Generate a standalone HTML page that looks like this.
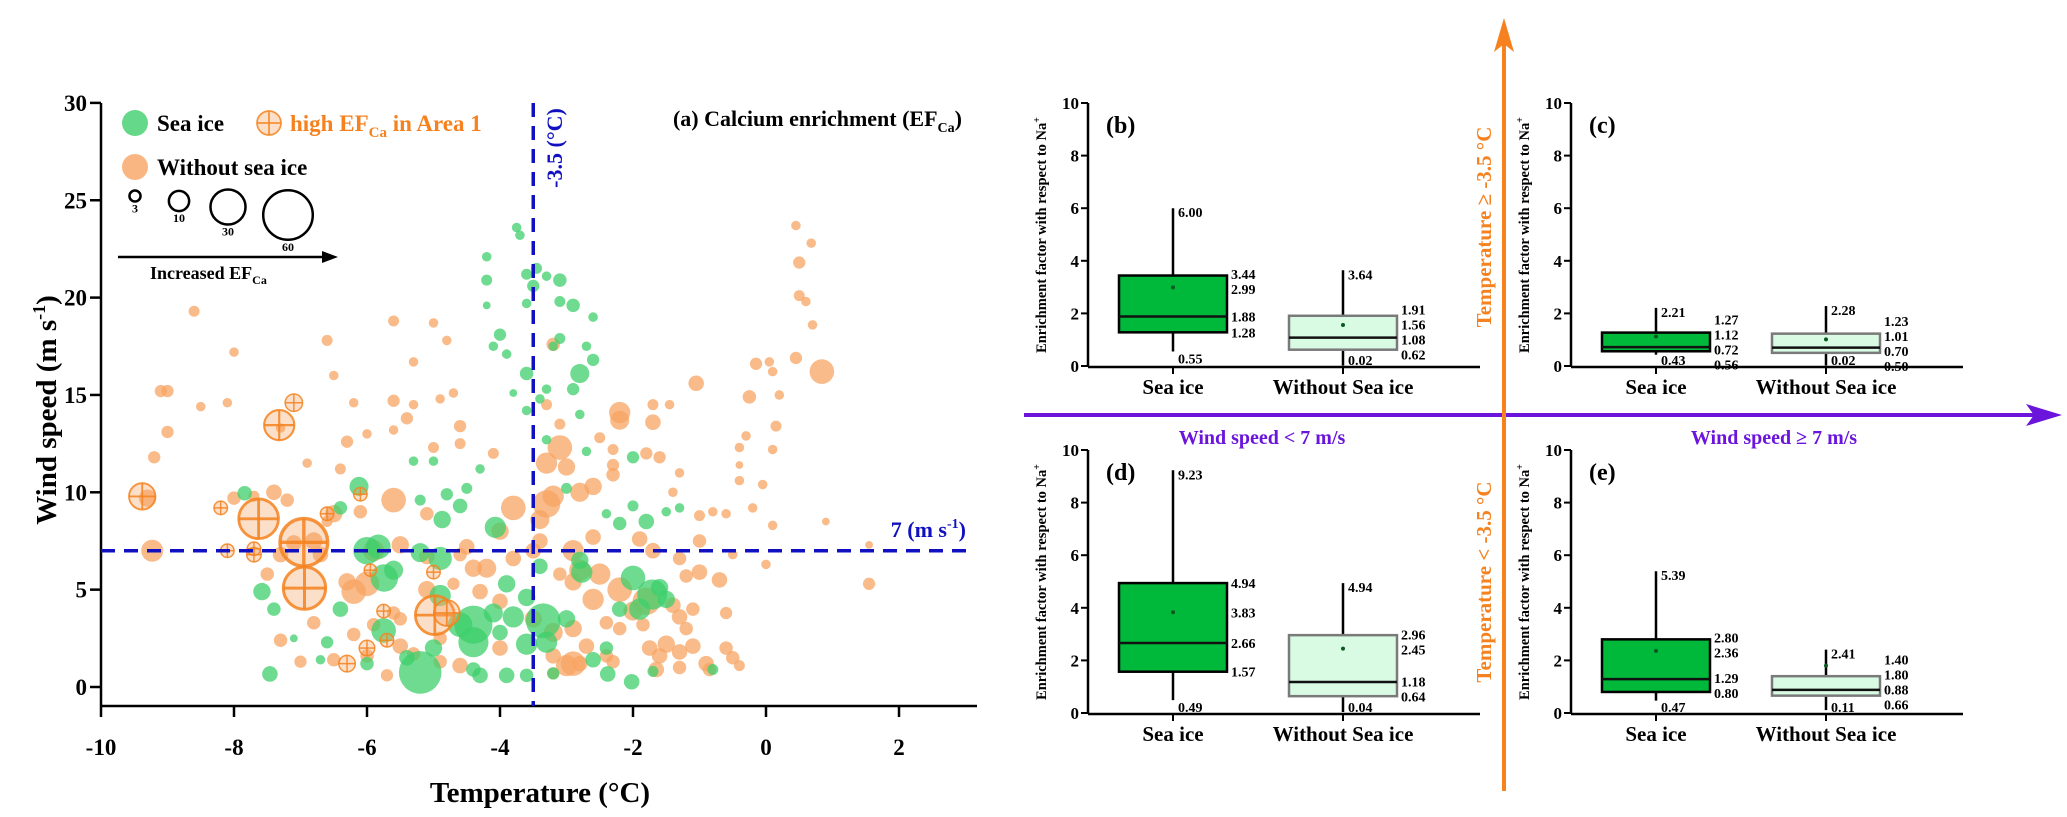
<!DOCTYPE html>
<html><head><meta charset="utf-8"><style>
html,body{margin:0;padding:0;background:#fff}
svg{display:block;font-family:"Liberation Serif",serif;font-weight:bold}
</style></head><body>
<svg id="fig" width="2067" height="817" viewBox="0 0 2067 817" xmlns="http://www.w3.org/2000/svg">
<g id="scatter"></g>
<g id="boxes"></g>
<g id="overlay"></g>
</svg>
<script>
const NS='http://www.w3.org/2000/svg';
const seaIcePts=[[-5.2,0.75,60],[-4.4,3.2,48],[-3.35,3.4,40],[-4.4,2.3,30],[-5.75,2.9,20],[-5.74,5.6,25],[-1.71,4.75,30],[-2.0,5.6,20],[-2.77,5.9,15],[-5.83,7.2,20],[-4.07,8.2,15],[-4.9,6.6,18],[-7.46,0.67,8],[-7.58,4.9,10],[-7.84,9.95,7],[-6.12,10.3,12],[-2.8,16.1,12],[-2.02,0.27,8],[-2.38,0.67,8],[-4.3,0.6,8],[-3.6,0.6,6],[-3.9,0.6,8],[-3.2,0.7,5],[-4.6,3.2,20],[-4.87,8.6,10],[-4.6,9.3,7],[-5.6,6.0,12],[-5.2,6.9,12],[-4.9,4.7,15],[-4.1,3.8,12],[-3.9,5.3,10],[-3.6,4.6,10],[-3.4,6.2,8],[-3.3,2.3,15],[-3.6,2.2,15],[-3.0,3.5,10],[-2.6,1.4,8],[-2.4,2.0,6],[-1.6,5.1,10],[-1.8,8.5,8],[-2.2,8.4,6],[-1.5,9.0,3],[-2.0,11.8,5],[-2.7,12.1,3],[-3.1,19.8,4],[-2.9,19.6,6],[-3.1,17.9,4],[-3.2,17.5,3],[-3.45,21.5,4],[-3.6,21.2,4],[-3.3,21.1,3],[-3.5,20.6,5],[-3.1,20.9,6],[-4.2,22.1,3],[-3.75,23.6,3],[-3.7,23.2,3],[-4.2,20.9,4],[-4.2,19.6,2],[-3.6,16.1,6],[-3.9,17.1,3],[-4.0,18.1,5],[-4.1,17.5,3],[-3.6,19.7,3],[-2.6,19,3],[-2.7,17.5,3],[-2.6,16.8,5],[-2.9,15.3,5],[-3.3,15.3,3],[-2.8,14,3],[-3.6,14.2,3],[-3.8,15.1,2],[-3.4,14.8,3],[-5.0,11.6,3],[-5.3,11.6,3],[-4.5,10.2,4],[-4.8,9.9,5],[-5.2,9.6,4],[-6.4,9.2,6],[-6.4,4.0,8],[-6.6,2.3,5],[-6.0,1.2,6],[-5.4,1.5,8],[-5.0,2.0,10],[-4.4,0.9,7],[-4.0,2.8,8],[-3.8,3.6,15],[-7.4,4.0,6],[-7.1,2.5,2],[-6.7,1.4,3],[-2.2,4.0,8],[-1.9,4.0,15],[-1.5,4.5,10],[-2.4,8.9,3],[-2.0,9.3,4],[-1.3,9.2,3],[-0.8,0.9,4],[-1.7,0.8,4],[-2.8,6.5,10],[-3.0,10.2,4],[-3.3,12.7,3],[-4.3,11.2,3],[-6.0,7.0,25]];
const noIcePts=[[0.84,16.2,20],[-1.05,15.6,8],[-0.25,14.9,6],[0.45,23.7,3],[0.68,22.8,3],[0.5,21.8,5],[0.5,20.1,4],[0.6,19.8,3],[0.7,18.6,3],[0.45,16.9,5],[-0.15,16.6,5],[0.05,16.7,3],[0.1,16.2,3],[0.2,15.0,3],[0.15,13.4,4],[0.1,12.2,3],[1.55,5.3,5],[1.55,7.3,2],[0.9,8.5,2],[0.1,8.3,3],[-0.2,9.2,3],[-0.05,10.4,3],[-0.4,10.6,3],[-0.4,11.4,2],[-0.4,12.3,3],[-0.3,12.9,3],[-0.6,8.9,3],[-0.8,9.0,3],[-1.0,8.8,4],[-1.0,7.5,6],[-0.5,6.8,3],[0.0,6.3,3],[-0.7,5.5,8],[-0.6,3.8,5],[-0.5,1.5,6],[-0.6,2.0,6],[-0.4,1.1,4],[-0.9,1.2,8],[-0.85,0.9,6],[-1.1,2.1,8],[-1.2,3.0,6],[-1.3,3.6,8],[-1.1,4.0,6],[-1.4,4.2,8],[-1.5,2.2,10],[-1.6,1.6,8],[-1.75,2.0,8],[-1.3,1.0,6],[-1.65,0.9,8],[-1.85,3.2,6],[-2.0,3.9,12],[-1.8,4.4,25],[-2.2,5.0,20],[-2.5,5.8,15],[-2.8,6.0,15],[-2.6,4.5,15],[-2.9,5.4,10],[-3.1,5.8,6],[-2.9,3.0,10],[-2.7,2.1,8],[-2.8,1.2,8],[-3.0,1.1,15],[-2.4,1.6,6],[-2.2,3.0,6],[-2.4,3.3,6],[-3.2,2.8,12],[-3.2,1.6,8],[-2.9,7.0,15],[-2.6,7.7,8],[-3.4,7.5,8],[-3.3,9.4,25],[-3.2,9.8,15],[-3.4,8.6,12],[-2.8,10.0,12],[-2.6,10.3,10],[-3.0,11.3,10],[-3.3,11.5,15],[-3.1,12.3,20],[-2.3,10.9,6],[-2.3,11.4,5],[-1.8,12.0,5],[-1.6,11.8,5],[-2.2,14.1,15],[-2.2,13.7,12],[-1.7,13.6,8],[-1.7,14.5,4],[-2.3,12.2,4],[-2.5,12.8,4],[-3.2,17.6,6],[-3.3,14.5,4],[-3.1,13.5,4],[-1.45,14.5,3],[-1.3,11.0,3],[-1.4,10.0,3],[-1.9,7.6,8],[-1.7,7.0,8],[-1.3,6.6,6],[-1.2,5.7,6],[-1.0,5.9,8],[-3.8,9.2,20],[-4.0,8.0,10],[-4.2,6.1,12],[-4.3,4.9,8],[-3.8,6.6,8],[-4.6,6.8,6],[-4.7,5.3,5],[-5.1,5.0,10],[-5.6,9.6,20],[-5.5,7.3,10],[-5.9,7.0,15],[-6.2,4.9,20],[-6.3,5.4,10],[-6.7,6.8,8],[-6.8,7.5,10],[-7.1,7.4,8],[-7.3,6.8,8],[-7.5,5.8,6],[-7.3,2.4,6],[-6.8,3.3,6],[-7.0,1.3,5],[-6.5,1.4,6],[-6.0,1.6,6],[-5.7,0.6,5],[-5.5,2.1,8],[-5.3,1.7,6],[-5.5,3.5,6],[-6.2,2.7,6],[-5.9,3.2,6],[-4.9,1.3,6],[-4.6,1.1,8],[-3.2,0.7,5],[-3.5,3.5,10],[-4.0,4.4,8],[-5.1,8.9,6],[-4.1,12.0,4],[-4.6,12.5,4],[-5.0,12.3,4],[-5.6,13.2,3],[-6.0,13.0,3],[-6.3,12.6,5],[-5.4,13.8,5],[-4.6,13.4,5],[-5.3,14.5,3],[-4.9,14.8,3],[-5.6,14.7,5],[-6.2,14.6,3],[-6.5,16.0,3],[-5.3,16.7,3],[-4.7,15.1,3],[-4.8,17.8,3],[-5.0,18.7,3],[-5.6,18.8,4],[-6.6,17.8,4],[-6.4,11.2,4],[-6.9,11.5,3],[-7.3,13.3,3],[-8.6,19.3,4],[-8.0,17.2,3],[-8.1,14.6,3],[-8.5,14.4,3],[-9.0,15.2,5],[-9.1,15.2,5],[-9.0,13.1,5],[-9.2,11.8,5],[-9.3,9.7,10],[-9.23,7.0,16],[-8.0,9.7,6],[-7.7,9.8,4],[-7.4,10.0,8],[-7.2,9.6,6],[-6.5,8.9,10],[-6.1,9.0,6],[-6.6,8.5,4],[-5.1,6.7,8],[-4.5,7.2,8],[-4.4,6.1,10],[-3.5,7.0,8],[-6.0,5.3,20],[-5.6,3.8,6],[-4.0,2.0,8],[-2.9,1.2,20],[-2.3,1.3,6],[-1.3,1.8,8],[-4.9,2.5,6]];
const highEfPts=[[-9.38,9.79,23],[-7.63,8.64,52],[-6.95,7.43,75],[-6.94,5.08,59],[-7.32,13.45,30],[-7.1,14.6,10],[-8.2,9.2,6],[-8.1,7.0,6],[-7.7,6.8,7],[-7.7,7.1,6],[-6.6,8.9,6],[-6.1,9.9,6],[-5.95,6.0,5],[-5.75,3.9,6],[-6.3,1.2,9],[-6.0,2.0,8],[-4.98,3.69,50],[-4.8,3.8,22],[-5.0,5.9,6],[-5.7,2.4,6]];
const xTicks=[-10,-8,-6,-4,-2,0,2];
const yTicks=[0,5,10,15,20,25,30];
const sizeLegend=[3,10,30,60];
const tempThreshold=-3.5, windThreshold=7;

const boxCategories=['Sea ice','Without Sea ice'];
const boxB_sea=[0.55,1.28,1.88,2.99,3.44,6.00];
const boxB_no=[0.02,0.62,1.08,1.56,1.91,3.64];
const boxC_sea=[0.43,0.56,0.72,1.12,1.27,2.21];
const boxC_no=[0.02,0.50,0.70,1.01,1.23,2.28];
const boxD_sea=[0.49,1.57,2.66,3.83,4.94,9.23];
const boxD_no=[0.04,0.64,1.18,2.45,2.96,4.94];
const boxE_sea=[0.47,0.80,1.29,2.36,2.80,5.39];
const boxE_no=[0.11,0.66,0.88,1.80,1.40,2.41];
const boxYTicks=[0,2,4,6,8,10];

function el(tag,attrs,parent,text){const e=document.createElementNS(NS,tag);for(const k in attrs)e.setAttribute(k,attrs[k]);if(text!==undefined)e.textContent=text;parent.appendChild(e);return e;}

const S=document.getElementById('scatter');
const xS=t=>101+(t+10)*66.5, yS=w=>687-w*19.47, rS=ef=>3.2*Math.sqrt(ef), rD=ef=>2.75*Math.sqrt(ef);
const AX0=101,AXY=706,AXR=977;
let a=el('line',{x1:AX0,y1:103,x2:AX0,y2:AXY,stroke:'#000','stroke-width':2.5},S);

a=el('line',{x1:AX0,y1:AXY,x2:AXR,y2:AXY,stroke:'#000','stroke-width':2.5},S);

yTicks.forEach(v=>{const y=yS(v);
 el('line',{x1:AX0-11,y1:y,x2:AX0,y2:y,stroke:'#000','stroke-width':2.5},S);
 const t=el('text',{x:AX0-14,y:y+8,'text-anchor':'end','font-size':23},S,v);
 });
xTicks.forEach(v=>{const x=xS(v);
 el('line',{x1:x,y1:AXY,x2:x,y2:AXY+11,stroke:'#000','stroke-width':2.5},S);
 const t=el('text',{x:x,y:755,'text-anchor':'middle','font-size':23},S,v);
 });
noIcePts.forEach(p=>{const c=el('circle',{cx:xS(p[0]),cy:yS(p[1]),r:rD(p[2]),fill:'#f7a463','fill-opacity':0.75},S);
 });
seaIcePts.forEach(p=>{const c=el('circle',{cx:xS(p[0]),cy:yS(p[1]),r:rD(p[2]),fill:'#3ecf6b','fill-opacity':0.75},S);
 });
function crossCircle(cx,cy,r,parent,name){const g=el('g',{stroke:'#f5821f','stroke-width':Math.max(1.5,r/7),fill:'#f7a463','fill-opacity':0.35,'stroke-opacity':0.85},parent);
 
 el('circle',{cx:cx,cy:cy,r:r},g);el('line',{x1:cx-r,y1:cy,x2:cx+r,y2:cy},g);el('line',{x1:cx,y1:cy-r,x2:cx,y2:cy+r},g);return g;}
highEfPts.forEach(p=>crossCircle(xS(p[0]),yS(p[1]),rD(p[2]),S,'high-ef-area1-point'));
a=el('line',{x1:xS(tempThreshold),y1:103,x2:xS(tempThreshold),y2:AXY,stroke:'#1010c0','stroke-width':3.5,'stroke-dasharray':'14 9'},S);

a=el('line',{x1:AX0,y1:yS(windThreshold),x2:AXR-10,y2:yS(windThreshold),stroke:'#1010c0','stroke-width':3.5,'stroke-dasharray':'14 9'},S);

a=el('text',{transform:'translate(562,148) rotate(-90)','text-anchor':'middle','font-size':22,fill:'#1010c0'},S,'-3.5 (°C)');

a=el('text',{x:966,y:537,'text-anchor':'end','font-size':22,fill:'#1010c0'},S);
a.innerHTML='7 (m s<tspan dy="-9" font-size="14">-1</tspan><tspan dy="9">)</tspan>';

a=el('text',{transform:'translate(56,410) rotate(-90)','text-anchor':'middle','font-size':29},S);
a.innerHTML='Wind speed (m s<tspan dy="-11" font-size="18">-1</tspan><tspan dy="11">)</tspan>';

a=el('text',{x:540,y:802,'text-anchor':'middle','font-size':29},S,'Temperature (°C)');

a=el('text',{x:962,y:126,'text-anchor':'end','font-size':22},S);
a.innerHTML='(a) Calcium enrichment (EF<tspan dy="6" font-size="14">Ca</tspan><tspan dy="-6">)</tspan>';

const L=el('g',{},S);
a=el('circle',{cx:135,cy:123,r:13,fill:'#3ecf6b','fill-opacity':0.8},L);
a=el('text',{x:157,y:131,'font-size':23},L,'Sea ice');
crossCircle(269,123,12,L,'legend-high-ef-marker');
a=el('text',{x:290,y:131,'font-size':23,fill:'#f5821f'},L);
a.innerHTML='high EF<tspan dy="6" font-size="15">Ca</tspan><tspan dy="-6"> in Area 1</tspan>';

a=el('circle',{cx:135,cy:167,r:13,fill:'#f7a463','fill-opacity':0.8},L);
a=el('text',{x:157,y:175,'font-size':23},L,'Without sea ice');
const sizeX=[135,179,228,288];
sizeLegend.forEach((v,i)=>{const r=rS(v);const cy=i<3?196+(i===0?0:(i===1?5:11)):215;
 const c=el('circle',{cx:sizeX[i],cy:cy,r:r,fill:'none',stroke:'#000','stroke-width':2.5},L);
 
 const t=el('text',{x:sizeX[i],y:cy+r+11,'text-anchor':'middle','font-size':12},L,v);
 });
el('line',{x1:118,y1:257,x2:328,y2:257,stroke:'#000','stroke-width':2.5},L);
el('polygon',{points:'338,257 322,251 322,263',fill:'#000'},L);
a=el('text',{x:150,y:279,'font-size':18},L);a.innerHTML='Increased EF<tspan dy="5" font-size="12">Ca</tspan>';


const B=document.getElementById('boxes');
function panel(ax,ay0,letter,sea,no,name){
 const g=el('g',{},B);
 const k=26.3, yv=v=>ay0-v*k, top=ay0-10*k;
 el('line',{x1:ax,y1:top,x2:ax,y2:ay0+1,stroke:'#000','stroke-width':2.5},g);
 el('line',{x1:ax,y1:ay0+1,x2:ax+392,y2:ay0+1,stroke:'#000','stroke-width':2.5},g);
 boxYTicks.forEach(v=>{el('line',{x1:ax-7,y1:yv(v),x2:ax,y2:yv(v),stroke:'#000','stroke-width':2},g);
  const t=el('text',{x:ax-9,y:yv(v)+6,'text-anchor':'end','font-size':17},g,v);
  });
 let t=el('text',{transform:`translate(${ax-42},${ay0-131}) rotate(-90)`,'text-anchor':'middle','font-size':14.5},g);
 t.innerHTML='Enrichment factor with respect to Na<tspan dy="-6" font-size="10">+</tspan>';
 
 t=el('text',{x:ax+18,y:top+30,'font-size':24},g,letter);
 [[sea,85,'#00b83a','#000'],[no,255,'#d9fbe4','#7a7a7a']].forEach((d,i)=>{
  const cx=ax+d[1],w=108,x0=cx-w/2;
  const bg=el('g',{},g);
  el('line',{x1:cx,y1:ay0+1,x2:cx,y2:ay0+8,stroke:'#000','stroke-width':2},g);
  const ct=el('text',{x:cx,y:ay0+28,'text-anchor':'middle','font-size':21},g,boxCategories[i]);
  
  const v=d[0];
  el('line',{x1:cx,y1:yv(v[5]),x2:cx,y2:yv(v[0]),stroke:'#000','stroke-width':2.5},bg);
  el('rect',{x:x0,y:yv(v[4]),width:w,height:yv(v[1])-yv(v[4]),fill:d[2],stroke:d[3],'stroke-width':2.5},bg);
  el('line',{x1:x0,y1:yv(v[2]),x2:x0+w,y2:yv(v[2]),stroke:'#111','stroke-width':2.5},bg);
  el('circle',{cx:cx,cy:yv(v[3]),r:2,fill:'#0a5a20'},bg);
  const mx=el('text',{x:cx+5,y:yv(v[5])+9,'font-size':14},bg,v[5].toFixed(2));
  
  const mn=el('text',{x:cx+5,y:Math.min(yv(v[0])+12,ay0-1),'font-size':14},bg,v[0].toFixed(2));
  
  const vals=[v[4],v[3],v[2],v[1]];let ys=vals.map(q=>yv(q));
  for(let it=0;it<80;it++){for(let j=0;j<3;j++){const gap=ys[j+1]-ys[j];if(gap<15){const dd=(15-gap)/2;ys[j]-=dd;ys[j+1]+=dd;}}}
  vals.forEach((q,j)=>{const lt=el('text',{x:x0+w+4,y:ys[j]+5,'font-size':14},bg,q.toFixed(2));
   });
 });
}
panel(1088,366,'(b)',boxB_sea,boxB_no,'panel-b');
panel(1571,366,'(c)',boxC_sea,boxC_no,'panel-c');
panel(1088,713,'(d)',boxD_sea,boxD_no,'panel-d');
panel(1571,713,'(e)',boxE_sea,boxE_no,'panel-e');

const O=document.getElementById('overlay');
a=el('line',{x1:1024,y1:415,x2:2040,y2:415,stroke:'#6a14dc','stroke-width':4},O);
el('polygon',{points:'2062,415 2026,404 2034,415 2026,426',fill:'#6a14dc'},O);
a=el('line',{x1:1504,y1:791,x2:1504,y2:40,stroke:'#f5821f','stroke-width':4},O);
el('polygon',{points:'1504,18 1494,52 1504,44 1514,52',fill:'#f5821f'},O);
a=el('text',{x:1262,y:444,'text-anchor':'middle','font-size':20,fill:'#6a14dc'},O,'Wind speed < 7 m/s');
a=el('text',{x:1774,y:444,'text-anchor':'middle','font-size':20,fill:'#6a14dc'},O,'Wind speed ≥ 7 m/s');
a=el('text',{transform:'translate(1491,227) rotate(-90)','text-anchor':'middle','font-size':21,fill:'#f5821f'},O,'Temperature ≥ -3.5 °C');
a=el('text',{transform:'translate(1491,582) rotate(-90)','text-anchor':'middle','font-size':21,fill:'#f5821f'},O,'Temperature < -3.5 °C');
</script>
</body></html>
